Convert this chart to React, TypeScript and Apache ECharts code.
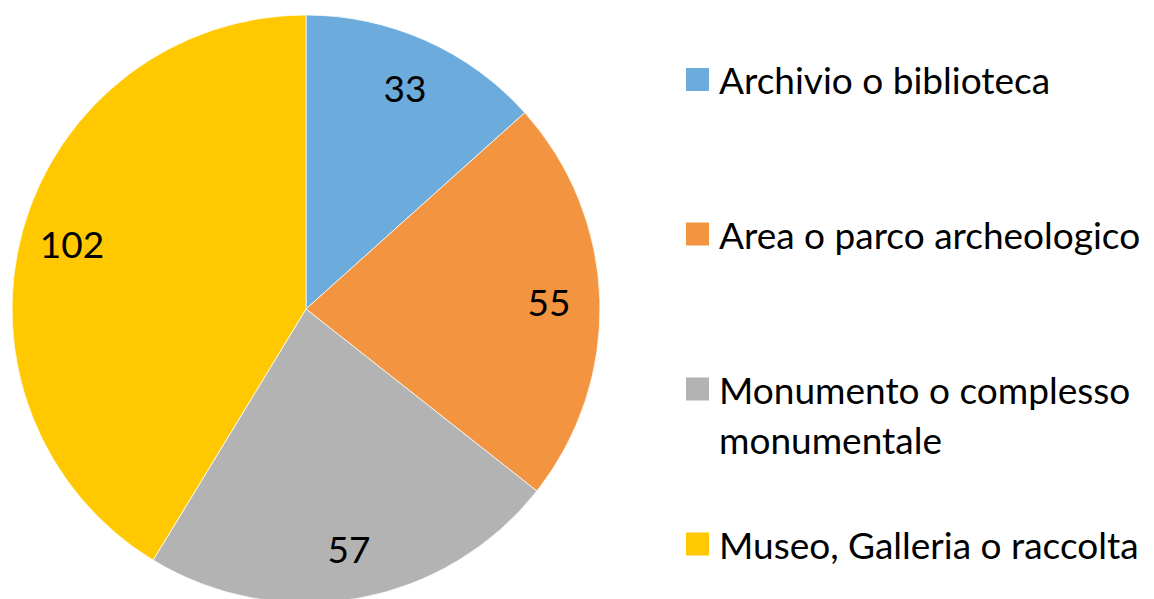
import React, { useEffect, useRef } from "react";
import * as echarts from "echarts";

const categories = [
  "Archivio o biblioteca",
  "Area o parco archeologico",
  "Monumento o complesso monumentale",
  "Museo, Galleria o raccolta",
];
const legendLabels = [
  "Archivio o biblioteca",
  "Area o parco archeologico",
  "Monumento o complesso\nmonumentale",
  "Museo, Galleria o raccolta",
];
const values = [33, 55, 57, 102];
const colors = ["#6CACDC", "#F39440", "#B3B3B3", "#FFC800"];

const FONT = "Lato";
const FS = 37;

export default function App() {
  const ref = useRef<HTMLDivElement>(null);
  useEffect(() => {
    if (!ref.current) return;
    const chart = echarts.init(ref.current, undefined, { renderer: "svg" });
    const center = [306, 309];
    const data = categories.map((name, i) => ({
      name,
      value: values[i],
      itemStyle: { color: colors[i] },
    }));
    const legendTops = [54.5, 209, 364, 519];
    const squarePath = "path://M0,0L23,0L23,23L0,23Z M28,23L28,23.01Z";
    const tallPath = "path://M0,0L23,0L23,23L0,23Z M28,73L28,73.01Z";
    const legends = categories.map((name, i) => ({
      show: true,
      orient: "vertical",
      left: 686,
      top: legendTops[i],
      padding: 0,
      data: [{ name, icon: i === 2 ? tallPath : squarePath }],
      itemWidth: 28,
      itemHeight: i === 2 ? 73 : 23,
      selectedMode: false,
      itemStyle: { borderWidth: 0 },
      formatter: () => legendLabels[i],
      textStyle: {
        fontFamily: FONT,
        fontSize: FS,
        lineHeight: 50,
        color: "#000",
      },
    }));
    chart.setOption({
      animation: false,
      backgroundColor: "#fff",
      legend: legends,
      series: [
        {
          type: "pie",
          center,
          radius: 294,
          startAngle: 90,
          clockwise: true,
          label: { show: false },
          labelLine: { show: false },
          itemStyle: { borderColor: "#fff", borderWidth: 0.75 },
          emphasis: { disabled: true },
          data,
        },
        {
          type: "pie",
          center,
          radius: 480,
          startAngle: 90,
          clockwise: true,
          silent: true,
          itemStyle: { color: "transparent", borderWidth: 0 },
          label: {
            show: true,
            position: "inside",
            formatter: "{c}",
            fontFamily: FONT,
            fontSize: FS,
            color: "#000",
          },
          labelLine: { show: false },
          emphasis: { disabled: true },
          data: categories.map((name, i) => ({ name, value: values[i] })),
        },
      ],
    });
    return () => chart.dispose();
  }, []);
  return (
    <div
      ref={ref}
      style={{ position: "absolute", left: 0, top: 0, width: 1154, height: 599 }}
    />
  );
}
